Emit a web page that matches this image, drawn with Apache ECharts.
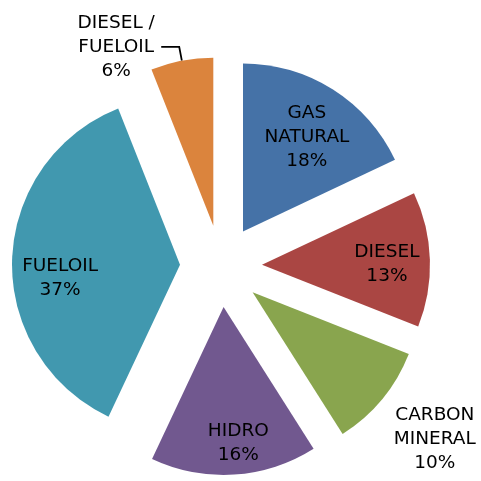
<!DOCTYPE html>
<html>
<head>
<meta charset="utf-8">
<script src="https://cdn.jsdelivr.net/npm/echarts@6/dist/echarts.min.js"></script>
<style>html,body{margin:0;padding:0;background:#fff}#c{width:481px;height:481px}</style>
</head>
<body>
<div id="c"></div>
<script>
const categories = ['GAS NATURAL', 'DIESEL', 'CARBON MINERAL', 'HIDRO', 'FUELOIL', 'DIESEL / FUELOIL'];
const labelTexts = ['GAS\nNATURAL', 'DIESEL', 'CARBON\nMINERAL', 'HIDRO', 'FUELOIL', 'DIESEL /\nFUELOIL'];
const values = [18, 13, 10, 16, 37, 6];
const colors = ['#4572A7', '#AA4643', '#89A54E', '#71588F', '#4198AF', '#DB843D'];
const innerLabeled = ['GAS NATURAL', 'DIESEL', 'HIDRO', 'FUELOIL'];
const farLabeled = ['CARBON MINERAL'];
const leaderLabeled = ['DIESEL / FUELOIL'];

// label nudges (style only)
const labelNudge = {
  'GAS NATURAL': [-2, 10],
  'DIESEL': [2, 3],
  'HIDRO': [7, 14],
  'FUELOIL': [3, 17],
  'CARBON MINERAL': [5, 0]
};

const FONT = 'DejaVu Sans';
const center = [221, 266];
const R = 168;
const OFFSET = 41;

function fmt(p) {
  const i = categories.indexOf(p.name);
  return labelTexts[i] + '\n' + Math.round(p.percent) + '%';
}
const textStyle = { color: '#000', fontFamily: FONT, fontSize: 18.5, lineHeight: 24 };

function makeData(kind) {
  return categories.map((c, i) => {
    const d = { name: c, value: values[i], selected: true };
    if (kind === 'main') {
      d.itemStyle = { color: colors[i] };
      const show = leaderLabeled.includes(c);
      d.label = { show: show };
      d.labelLine = { show: show };
    } else {
      d.itemStyle = { color: 'rgba(0,0,0,0)' };
      const list = kind === 'inner' ? innerLabeled : farLabeled;
      d.label = { show: list.includes(c) };
    }
    return d;
  });
}
function nudge(p) {
  const n = labelNudge[categories[p.dataIndex]] || [0, 0];
  return { dx: n[0], dy: n[1] };
}

const common = {
  type: 'pie',
  center: center,
  startAngle: 90,
  clockwise: true,
  selectedMode: 'multiple',
  selectedOffset: OFFSET,
  avoidLabelOverlap: false,
  animation: false,
  emphasis: { disabled: true, scale: false },
  select: { itemStyle: {} }
};

const option = {
  animation: false,
  series: [
    Object.assign({}, common, {
      name: 'main',
      radius: [0, R],
      data: makeData('main'),
      label: {
        position: 'outside',
        formatter: function (p) {
          const i = categories.indexOf(p.name);
          return labelTexts[i].split('\n').map(s => '{a|' + s + '}').join('\n') + '\n{a|' + Math.round(p.percent) + '%}';
        },
        distanceToLabelLine: 4,
        rich: { a: Object.assign({ width: 82, align: 'center' }, textStyle) }
      },
      labelLine: { length: 14, length2: 18, lineStyle: { color: '#000', width: 1.8 } }
    }),
    Object.assign({}, common, {
      name: 'inner',
      silent: true,
      radius: [72, R],
      data: makeData('inner'),
      label: Object.assign({ position: 'inside', formatter: fmt, align: 'center' }, textStyle),
      labelLayout: nudge,
      labelLine: { show: false }
    }),
    Object.assign({}, common, {
      name: 'far',
      silent: true,
      radius: [200, 254],
      data: makeData('far'),
      label: Object.assign({ position: 'inside', formatter: fmt, align: 'center' }, textStyle),
      labelLayout: nudge,
      labelLine: { show: false }
    })
  ]
};

const chart = echarts.init(document.getElementById('c'), null, { renderer: 'canvas' });
chart.setOption(option);
</script>
</body>
</html>
